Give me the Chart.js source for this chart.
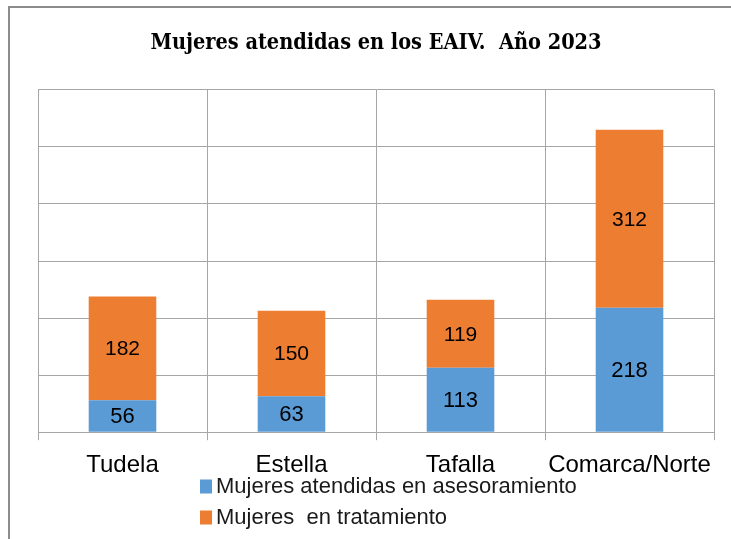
<!DOCTYPE html>
<html>
<head>
<meta charset="utf-8">
<script src="https://cdn.jsdelivr.net/npm/chart.js@4.4.1/dist/chart.umd.min.js"></script>
<style>
  html, body { margin: 0; padding: 0; background: #fff; }
  #wrap { position: relative; width: 731px; height: 539px; overflow: hidden; }
  #frame { position: absolute; left: 8px; top: 6px; width: 800px; height: 600px;
           border-left: 2px solid #8c8c8c; border-top: 2px solid #8c8c8c; }
  canvas { position: absolute; left: 0; top: 0; }
</style>
</head>
<body>
<div id="wrap">
  <div id="frame"></div>
  <canvas id="chart" width="731" height="539"></canvas>
</div>
<script>
'use strict';

// ── Data ───────────────────────────────────────────────────────────────────
const CATEGORIES    = ['Tudela', 'Estella', 'Tafalla', 'Comarca/Norte'];
const ASESORAMIENTO = [56, 63, 113, 218];
const TRATAMIENTO   = [182, 150, 119, 312];
const SERIES_NAMES  = ['Mujeres atendidas en asesoramiento', 'Mujeres  en tratamiento'];
const TITLE_TEXT    = 'Mujeres atendidas en los EAIV.  Año 2023';
const Y_MAX  = 600;
const Y_STEP = 100;

const BLUE   = '#5B9BD5';
const ORANGE = '#ED7D31';
const GRID   = '#a6a6a6';
const SANS   = '"Liberation Sans", Arial, sans-serif';

// ── Plugins ────────────────────────────────────────────────────────────────

// value labels centred inside each stacked segment
const barLabels = {
  id: 'barLabels',
  afterDatasetsDraw(chart) {
    const ctx = chart.ctx;
    ctx.save();
    ctx.fillStyle = '#000';
    ctx.textAlign = 'center';
    ctx.textBaseline = 'middle';
    chart.data.datasets.forEach((ds, i) => {
      const meta = chart.getDatasetMeta(i);
      ctx.font = (i === 0 ? '22px ' : '21px ') + SANS;
      meta.data.forEach((bar, j) => {
        const yMid = (bar.y + bar.base) / 2;
        ctx.fillText(String(ds.data[j]), bar.x, yMid + 1);
      });
    });
    ctx.restore();
  }
};

// legend stacked one entry per line under the axis labels
const stackedLegend = {
  id: 'stackedLegend',
  afterDraw(chart) {
    const ctx = chart.ctx;
    const x0 = 200, y0 = 486, rowH = 31, box = 13;
    ctx.save();
    ctx.font = '22px ' + SANS;
    ctx.textBaseline = 'middle';
    ctx.textAlign = 'left';
    chart.data.datasets.forEach((ds, i) => {
      const y = y0 + i * rowH;
      ctx.fillStyle = ds.backgroundColor;
      ctx.fillRect(x0, y - box / 2, box - 1, box + 1);
      ctx.fillStyle = '#1a1a1a';
      ctx.fillText(ds.label, x0 + box + 3, y + 1);
    });
    ctx.restore();
  }
};

// ── Chart ──────────────────────────────────────────────────────────────────
const ctx = document.getElementById('chart').getContext('2d');
new Chart(ctx, {
  type: 'bar',
  data: {
    labels: CATEGORIES,
    datasets: [
      { label: SERIES_NAMES[0], data: ASESORAMIENTO, backgroundColor: BLUE },
      { label: SERIES_NAMES[1], data: TRATAMIENTO,   backgroundColor: ORANGE }
    ]
  },
  options: {
    responsive: false,
    devicePixelRatio: 1,
    animation: false,
    categoryPercentage: 1.0,
    barPercentage: 0.4,
    layout: { padding: { left: 38, right: 17, top: 0, bottom: 48 } },
    plugins: {
      legend: { display: false },
      tooltip: { enabled: false },
      title: {
        display: true,
        text: TITLE_TEXT,
        color: '#000',
        font: { family: '"DejaVu Serif Condensed", "DejaVu Serif", serif', size: 21.5, weight: 'bold' },
        padding: { top: 31, bottom: 33 }
      }
    },
    scales: {
      x: {
        stacked: true,
        grid: { color: GRID, offset: true, tickLength: 8, drawTicks: true },
        border: { color: GRID },
        ticks: { color: '#000', font: { family: SANS, size: 24 }, padding: 11 }
      },
      y: {
        stacked: true,
        min: 0,
        max: Y_MAX,
        grid: { color: GRID, drawTicks: false },
        border: { color: GRID },
        ticks: { display: false, stepSize: Y_STEP }
      }
    }
  },
  plugins: [barLabels, stackedLegend]
});
</script>
</body>
</html>
